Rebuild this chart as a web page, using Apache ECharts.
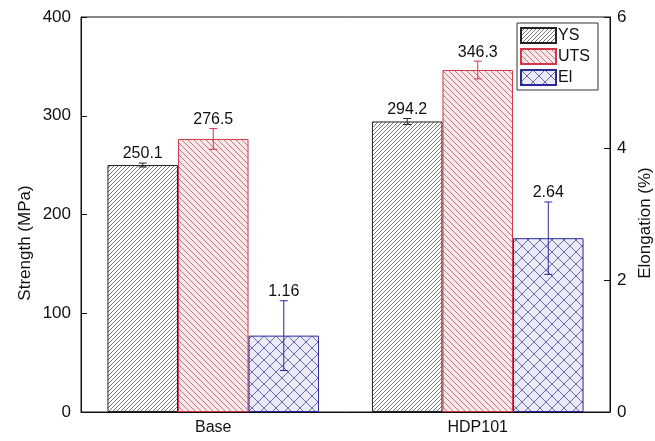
<!DOCTYPE html>
<html>
<head>
<meta charset="utf-8">
<script src="https://cdn.jsdelivr.net/npm/echarts@6/dist/echarts.min.js"></script>
<style>
  html, body { margin: 0; padding: 0; background: #fff; }
  #chart { width: 655px; height: 441px; }
</style>
</head>
<body>
<div id="chart"></div>
<script>
// Tensile properties of the two conditions
const categories = ['Base', 'HDP101'];
const seriesNames = ['YS', 'UTS', 'El'];
const ysValues = [250.1, 294.2];
const ysErrors = [2, 3];
const utsValues = [276.5, 346.3];
const utsErrors = [10.5, 9];
const elValues = [1.16, 2.64];
const elErrors = [0.53, 0.55];
const strengthTicks = [0, 100, 200, 300, 400];
const elongationTicks = [0, 2, 4, 6];

const FONT = '"Liberation Sans", Arial, sans-serif';

// Hatch fills drawn on small repeating canvases
function hatch(size, bg, stroke, dirs, lw) {
  const c = document.createElement('canvas');
  c.width = size; c.height = size;
  const g = c.getContext('2d');
  g.fillStyle = bg; g.fillRect(0, 0, size, size);
  g.strokeStyle = stroke; g.lineWidth = lw;
  dirs.forEach(function (d) {
    g.beginPath();
    for (let k = -1; k <= 1; k++) {
      const o = k * size;
      if (d === '/') { g.moveTo(o - 1, size + 1); g.lineTo(o + size + 1, -1); }
      else { g.moveTo(o - 1, -1); g.lineTo(o + size + 1, size + 1); }
    }
    g.stroke();
  });
  return { image: c, repeat: 'repeat' };
}

const ysFill = hatch(4, '#ffffff', '#555555', ['/'], 0.8);
const utsFill = hatch(6, '#fbe6e8', '#b25c68', ['\\'], 0.8);
const elFill = hatch(12, '#ebeaf8', '#34348a', ['/', '\\'], 0.7);

const colors = { YS: '#222222', UTS: '#d0384a', El: '#2a2a9a' };

function errorSeries(name, values, errors, slot, yAxisIndex, color, digits) {
  return {
    type: 'custom',
    name: name + ' err',
    yAxisIndex: yAxisIndex,
    z: 5,
    silent: true,
    data: values.map(function (v, i) { return [i, v, errors[i]]; }),
    renderItem: function (params, api) {
      const idx = api.value(0), v = api.value(1), e = api.value(2);
      const band = api.size([1, 0])[0];
      const bw = band * 0.8 / 3;
      const x = api.coord([idx, v])[0] + (slot - 1) * bw;
      const yTop = api.coord([idx, v + e])[1];
      const yBot = api.coord([idx, v - e])[1];
      const cap = 4;
      const st = { stroke: color, lineWidth: 1 };
      return {
        type: 'group',
        children: [
          { type: 'line', shape: { x1: x, y1: yTop, x2: x, y2: yBot }, style: st },
          { type: 'line', shape: { x1: x - cap, y1: yTop, x2: x + cap, y2: yTop }, style: st },
          { type: 'line', shape: { x1: x - cap, y1: yBot, x2: x + cap, y2: yBot }, style: st },
          {
            type: 'text',
            x: x, y: yTop - 9,
            style: {
              text: v.toFixed(digits),
              fill: '#111',
              font: '16px ' + FONT,
              align: 'center',
              verticalAlign: 'middle'
            }
          }
        ]
      };
    }
  };
}

const chart = echarts.init(document.getElementById('chart'), null, { renderer: 'canvas' });

chart.setOption({
  animation: false,
  backgroundColor: '#fff',
  textStyle: { fontFamily: FONT },
  grid: {
    left: 81, right: 45, top: 17, bottom: 29,
    show: true, borderColor: '#111', borderWidth: 1, backgroundColor: 'transparent'
  },
  legend: {
    orient: 'vertical',
    left: 517, top: 23,
    itemWidth: 35, itemHeight: 15, itemGap: 4,
    padding: [4, 8, 4, 3],
    backgroundColor: '#fff',
    borderColor: '#333', borderWidth: 1,
    textStyle: { fontSize: 16, color: '#111', fontFamily: FONT, padding: [0, 0, 0, -3] },
    data: seriesNames.map(function (n) { return { name: n, icon: 'rect' }; })
  },
  xAxis: {
    type: 'category',
    data: categories,
    axisLine: { lineStyle: { color: '#111' } },
    axisTick: { show: false },
    axisLabel: { color: '#111', fontSize: 16, margin: 8, fontFamily: FONT }
  },
  yAxis: [
    {
      type: 'value', min: 0, max: 400, interval: 100,
      axisLine: { show: true, lineStyle: { color: '#111' } },
      axisTick: { show: true, inside: true, length: 6, lineStyle: { color: '#111' } },
      axisLabel: {
        color: '#111', fontSize: 17, margin: 10, fontFamily: FONT,
        formatter: function (v) { return strengthTicks.indexOf(v) >= 0 ? String(v) : ''; }
      },
      splitLine: { show: false }
    },
    {
      type: 'value', min: 0, max: 6, interval: 2, position: 'right',
      axisLine: { show: true, lineStyle: { color: '#111' } },
      axisTick: { show: true, inside: true, length: 6, lineStyle: { color: '#111' } },
      axisLabel: {
        color: '#111', fontSize: 17, margin: 7, fontFamily: FONT,
        formatter: function (v) { return elongationTicks.indexOf(v) >= 0 ? String(v) : ''; }
      },
      splitLine: { show: false }
    }
  ],
  graphic: [
    {
      type: 'text', x: 25, y: 243, rotation: Math.PI / 2,
      style: { text: 'Strength (MPa)', font: '17px ' + FONT, fill: '#111', align: 'center', verticalAlign: 'middle' }
    },
    {
      type: 'text', x: 645, y: 223, rotation: Math.PI / 2,
      style: { text: 'Elongation (%)', font: '17px ' + FONT, fill: '#111', align: 'center', verticalAlign: 'middle' }
    }
  ],
  series: [
    {
      name: 'YS', type: 'bar', yAxisIndex: 0,
      barCategoryGap: '20%', barGap: '0%',
      data: ysValues,
      itemStyle: { color: ysFill, borderColor: colors.YS, borderWidth: 1 }
    },
    {
      name: 'UTS', type: 'bar', yAxisIndex: 0,
      barCategoryGap: '20%', barGap: '0%',
      data: utsValues,
      itemStyle: { color: utsFill, borderColor: colors.UTS, borderWidth: 1 }
    },
    {
      name: 'El', type: 'bar', yAxisIndex: 1,
      barCategoryGap: '20%', barGap: '0%',
      data: elValues,
      itemStyle: { color: elFill, borderColor: colors.El, borderWidth: 1 }
    },
    errorSeries('YS', ysValues, ysErrors, 0, 0, colors.YS, 1),
    errorSeries('UTS', utsValues, utsErrors, 1, 0, colors.UTS, 1),
    errorSeries('El', elValues, elErrors, 2, 1, colors.El, 2)
  ]
});
</script>
</body>
</html>
